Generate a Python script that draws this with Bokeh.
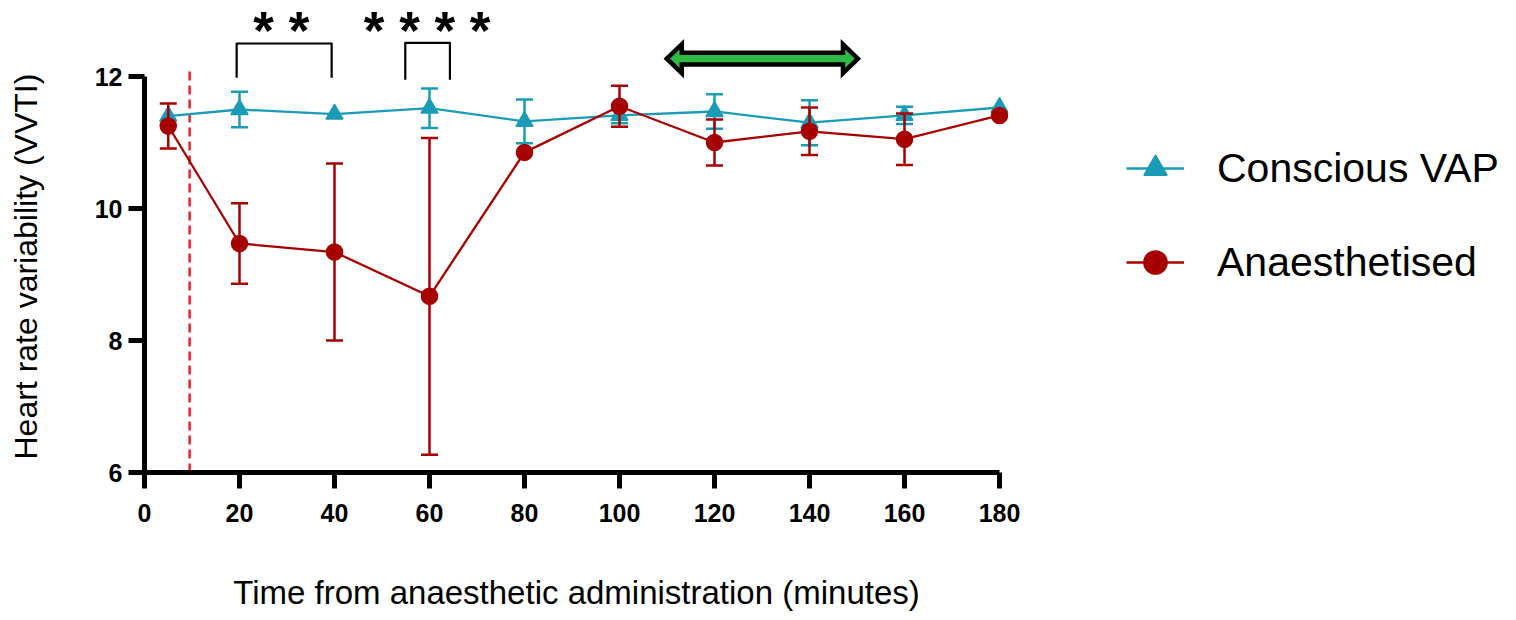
import numpy as np
from bokeh.plotting import figure
from bokeh.layouts import row
from bokeh.models import Range1d, Legend, LegendItem, ColumnDataSource, Title
from bokeh.embed import file_html
from bokeh.resources import INLINE
from bokeh.core.properties import value

# ---------------- data ----------------
time_min = [5, 20, 40, 60, 80, 100, 120, 140, 160, 180]
conscious_mean = [11.40, 11.50, 11.43, 11.52, 11.32, 11.41, 11.47, 11.30, 11.41, 11.53]
conscious_err = [0.0, 0.27, 0.0, 0.30, 0.33, 0.12, 0.26, 0.34, 0.13, 0.0]
anaes_mean = [11.25, 9.47, 9.34, 8.67, 10.85, 11.55, 11.00, 11.17, 11.05, 11.41]
anaes_err = [0.34, 0.61, 1.34, 2.40, 0.0, 0.31, 0.35, 0.36, 0.39, 0.0]

x_ticks = [0, 20, 40, 60, 80, 100, 120, 140, 160, 180]
y_ticks = [6, 8, 10, 12]

series_names = ["Conscious VAP", "Anaesthetised"]
x_title = "Time from anaesthetic administration (minutes)"
y_title = "Heart rate variability (VVTI)"

# annotations
dose_time = 9.5
dose_line_top = 12.12
bracket_left = [19.4, 54.9]
bracket_right = [39.4, 64.3]
bracket_top = [12.50, 12.51]
bracket_bottom = [11.98, 11.95]
star_text = ["* *", "* * * *"]
star_x = [28.8, 59.5]
star_y = [12.70, 12.70]
arrow_start = 109.96
arrow_end = 150.2
arrow_y = 12.27

TEAL = "#1b9bb6"
RED = "#a60000"
FONT = "Liberation Sans"

# ---------------- geometry (pixels) ----------------
PX_X = 4.75   # px per minute
PX_Y = 66.0   # px per unit
fig_h = 614
frame_top = 8
axis_px = 472           # pixel row of y = 6 (frame bottom)
bottom_border = fig_h - axis_px
ylab_w = 60
frame_left, frame_w = 144, 864
main_right_border = 20
main_w = frame_left + frame_w + main_right_border - ylab_w
leg_w = 1500 - ylab_w - main_w

# ---------------- y-axis title panel ----------------
ylab = figure(width=ylab_w, height=fig_h, output_backend="svg", toolbar_location=None,
              x_range=Range1d(0, 1), y_range=Range1d(0, 1), x_axis_type=None, y_axis_type=None,
              min_border_left=47, min_border_right=3,
              min_border_top=frame_top, min_border_bottom=bottom_border)
ylab.outline_line_color = None
ylab.add_layout(Title(text=y_title, align="left", vertical_align="bottom", offset=13, standoff=8,
                      text_font=FONT, text_font_size="32px", text_font_style="normal",
                      text_color="black"), "left")

# ---------------- main chart ----------------
p = figure(width=main_w, height=fig_h, output_backend="svg", toolbar_location=None,
           x_range=Range1d(0, frame_w / PX_X),
           y_range=Range1d(6, 6 + (axis_px - frame_top) / PX_Y),
           min_border_left=frame_left - ylab_w, min_border_right=main_right_border,
           min_border_top=frame_top, min_border_bottom=bottom_border)
p.outline_line_color = None
p.xgrid.visible = False
p.ygrid.visible = False

for ax in (p.xaxis[0], p.yaxis[0]):
    ax.axis_line_width = 5
    ax.axis_line_color = "black"
    ax.major_tick_line_width = 5
    ax.major_tick_line_color = "black"
    ax.major_tick_out = 16
    ax.major_tick_in = 0
    ax.minor_tick_line_color = None
    ax.major_label_text_font = FONT
    ax.major_label_text_font_size = "25px"
    ax.major_label_text_font_style = "bold"
    ax.major_label_text_color = "black"
    ax.axis_label_text_font = FONT
    ax.axis_label_text_font_size = "33px"
    ax.axis_label_text_font_style = "normal"
    ax.axis_label_text_color = "black"

p.xaxis.bounds = (0, 180)
p.xaxis.ticker = x_ticks
p.xaxis.major_label_standoff = 15
p.xaxis.axis_label = x_title
p.xaxis.axis_label_standoff = 49

p.yaxis.bounds = (6, 12)
p.yaxis.ticker = y_ticks
p.yaxis.major_label_standoff = 6

# dosing line
p.segment(x0=[dose_time], y0=[6], x1=[dose_time], y1=[dose_line_top],
          line_color="#e8262b", line_width=2.5, line_dash="9 5")

# significance brackets
for xl, xr, yt, yb in zip(bracket_left, bracket_right, bracket_top, bracket_bottom):
    p.line(x=[xl, xl, xr, xr], y=[yb, yt, yt, yb], line_color="black", line_width=2.2,
           line_join="round")
p.text(x=star_x, y=star_y, text=star_text, text_font=value(FONT), text_font_size="53px",
       text_font_style="bold", text_align="center", text_baseline="alphabetic", text_color="black")

# green double arrow
hl = 15 / PX_X
hh = 14.5 / PX_Y
sh = 5.9 / PX_Y
ax_ = [arrow_start, arrow_start + hl, arrow_start + hl, arrow_end - hl, arrow_end - hl, arrow_end,
       arrow_end - hl, arrow_end - hl, arrow_start + hl, arrow_start + hl]
ay_ = [arrow_y, arrow_y + hh, arrow_y + sh, arrow_y + sh, arrow_y + hh, arrow_y,
       arrow_y - hh, arrow_y - sh, arrow_y - sh, arrow_y - hh]
p.patch(x=ax_, y=ay_, fill_color="#2fb844", line_color="black", line_width=4.5, line_join="miter")


def draw_series(mean, err, color, marker, size):
    t = np.array(time_min, dtype=float)
    m = np.array(mean)
    e = np.array(err)
    k = e > 0
    src = ColumnDataSource(dict(x=t[k], lo=(m - e)[k], hi=(m + e)[k]))
    p.segment(x0="x", y0="lo", x1="x", y1="hi", source=src, line_color=color, line_width=2.5)
    p.scatter(x="x", y="lo", source=src, marker="dash", size=17, line_color=color, line_width=2.5)
    p.scatter(x="x", y="hi", source=src, marker="dash", size=17, line_color=color, line_width=2.5)
    p.line(x=time_min, y=mean, line_color=color, line_width=2.3)
    p.scatter(x=time_min, y=mean, marker=marker, size=size, fill_color=color,
              line_color=color, line_width=1.5)


draw_series(conscious_mean, conscious_err, TEAL, "triangle", 17)
draw_series(anaes_mean, anaes_err, RED, "circle", 16)

# ---------------- legend panel ----------------
lg = figure(width=leg_w, height=fig_h, output_backend="svg", toolbar_location=None,
            x_range=Range1d(0, 1), y_range=Range1d(0, 1), x_axis_type=None, y_axis_type=None,
            min_border_left=0, min_border_right=0,
            min_border_top=frame_top, min_border_bottom=bottom_border)
lg.outline_line_color = None
items = []
for name, color, marker, mean in [(series_names[0], TEAL, "triangle", conscious_mean),
                                   (series_names[1], RED, "circle", anaes_mean)]:
    # legend proxies: the series' own values, which lie outside this panel's 0..1 range
    ln = lg.line(x=time_min, y=mean, line_color=color, line_width=2.6)
    sc = lg.scatter(x=time_min, y=mean, marker=marker, size=16, fill_color=color,
                    line_color=color, line_width=1.5)
    items.append(LegendItem(label=name, renderers=[ln, sc]))

glyph_w = 58
item_gap = 36
leg_h = 2 * glyph_w + item_gap
leg_top = 168 - glyph_w / 2
leg_left = 1126 - (ylab_w + main_w)
legend = Legend(items=items, location=(leg_left, axis_px - (leg_top + leg_h)))
legend.glyph_width = glyph_w
legend.glyph_height = glyph_w
legend.spacing = item_gap
legend.padding = 0
legend.margin = 0
legend.label_standoff = 33
legend.label_text_font = FONT
legend.label_text_font_size = "41px"
legend.label_text_color = "black"
legend.background_fill_alpha = 0
legend.border_line_alpha = 0
lg.add_layout(legend, "center")

layout = row(ylab, p, lg, spacing=0)
open("out.html", "w").write(file_html(layout, INLINE))
